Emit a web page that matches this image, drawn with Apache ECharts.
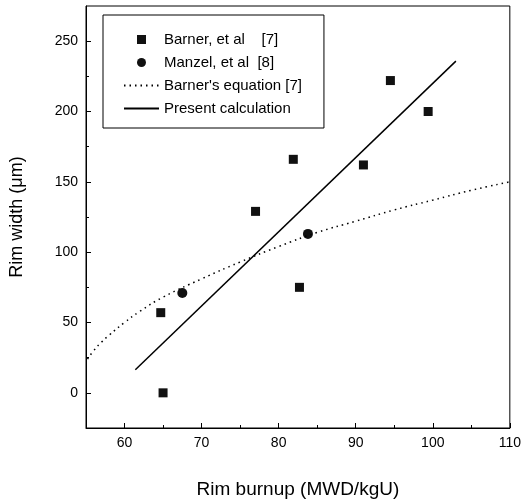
<!DOCTYPE html>
<html>
<head>
<meta charset="utf-8">
<script src="https://cdn.jsdelivr.net/npm/echarts@6/dist/echarts.min.js"></script>
<style>
  html, body { margin: 0; padding: 0; background: #fff; }
  #chart { width: 524px; height: 504px; }
</style>
</head>
<body>
<div id="chart"></div>
<script>
// Barner, et al [7] 实测点
const barnerX = [64.7, 65.0, 77.0, 81.9, 82.7, 91.0, 94.5, 99.4];
const barnerY = [57, 0, 129, 166, 75, 162, 222, 200];
// Manzel, et al [8]
const manzelX = [67.5, 83.8];
const manzelY = [71, 113];
// Barner's equation 曲线
const eqX = [55.2, 56, 57, 58, 60, 62, 65, 70, 75, 80, 85, 90, 95, 100, 105, 110];
const eqY = [24, 30, 36, 41, 50, 58, 68, 81, 93, 104, 114, 122, 130, 137, 144, 150];
// Present calculation 直线
const calcX = [61.4, 103];
const calcY = [16.4, 235.8];
// 刻度
const xTicks = [60, 70, 80, 90, 100, 110];
const xMinor = [65, 75, 85, 95, 105];
const yTicks = [0, 50, 100, 150, 200, 250];
const yMinor = [25, 75, 125, 175, 225];

const names = ['Barner, et al    [7]', 'Manzel, et al  [8]', "Barner's equation [7]", 'Present calculation'];
const font = 'Liberation Sans, Arial, sans-serif';

function pairs(xs, ys) {
  let out = [];
  for (let i = 0; i < xs.length; i++) {
    out.push([xs[i], ys[i]]);
  }
  return out;
}

const chart = echarts.init(document.getElementById('chart'));

const option = {
  backgroundColor: '#fff',
  animation: false,
  grid: {
    left: 86, right: 13, top: 6, bottom: 76,
    show: true, borderColor: '#000', borderWidth: 1
  },
  legend: {
    orient: 'vertical',
    left: 103, top: 15,
    padding: [17, 22, 12, 20],
    itemWidth: 35, itemHeight: 9, itemGap: 8,
    borderColor: '#000', borderWidth: 1,
    textStyle: { fontFamily: font, fontSize: 15, color: '#000' },
    data: [
      { name: names[0], icon: 'path://M0,0L10,0L10,10L0,10Z' },
      { name: names[1], icon: 'circle' },
      // 线条图例不显示圆点
      { name: names[2], itemStyle: { opacity: 0 } },
      { name: names[3], itemStyle: { opacity: 0 } }
    ]
  },
  xAxis: [
    {
      type: 'value', min: 55, max: 110,
      name: 'Rim burnup (MWD/kgU)', nameLocation: 'middle', nameGap: 52,
      nameTextStyle: { fontFamily: font, fontSize: 19, color: '#000' },
      axisLine: { onZero: false, lineStyle: { color: '#000', width: 1 } },
      axisTick: { inside: true, length: 5, customValues: xTicks, lineStyle: { color: '#000' } },
      axisLabel: { customValues: xTicks, margin: 8, fontFamily: font, fontSize: 14, color: '#000' },
      splitLine: { show: false }
    },
    {
      type: 'value', min: 55, max: 110, position: 'bottom',
      axisLine: { show: false, onZero: false },
      axisTick: { inside: true, length: 3, customValues: xMinor, lineStyle: { color: '#000' } },
      axisLabel: { show: false },
      splitLine: { show: false }
    }
  ],
  yAxis: [
    {
      type: 'value', min: -25, max: 275,
      name: 'Rim width (μm)', nameLocation: 'middle', nameGap: 60,
      nameTextStyle: { fontFamily: font, fontSize: 18, color: '#000' },
      axisLine: { show: true, onZero: false, lineStyle: { color: '#000', width: 1 } },
      axisTick: { show: true, inside: true, length: 5, customValues: yTicks, lineStyle: { color: '#000' } },
      axisLabel: { customValues: yTicks, margin: 8, fontFamily: font, fontSize: 14, color: '#000' },
      splitLine: { show: false }
    },
    {
      type: 'value', min: -25, max: 275, position: 'left',
      axisLine: { show: false, onZero: false },
      axisTick: { show: true, inside: true, length: 3, customValues: yMinor, lineStyle: { color: '#000' } },
      axisLabel: { show: false },
      splitLine: { show: false }
    }
  ],
  series: [
    {
      name: names[0], type: 'scatter',
      symbol: 'rect', symbolSize: 9,
      itemStyle: { color: '#111', opacity: 1 },
      data: pairs(barnerX, barnerY)
    },
    {
      name: names[1], type: 'scatter',
      symbol: 'circle', symbolSize: 10,
      itemStyle: { color: '#111', opacity: 1 },
      data: pairs(manzelX, manzelY)
    },
    {
      name: names[2], type: 'line',
      smooth: true, symbol: 'none',
      lineStyle: { color: '#000', width: 1.5, type: [1.5, 4] },
      itemStyle: { color: '#000' },
      data: pairs(eqX, eqY)
    },
    {
      name: names[3], type: 'line',
      symbol: 'none',
      lineStyle: { color: '#000', width: 1.5 },
      itemStyle: { color: '#000' },
      data: pairs(calcX, calcY)
    }
  ]
};

chart.setOption(option);
</script>
</body>
</html>
